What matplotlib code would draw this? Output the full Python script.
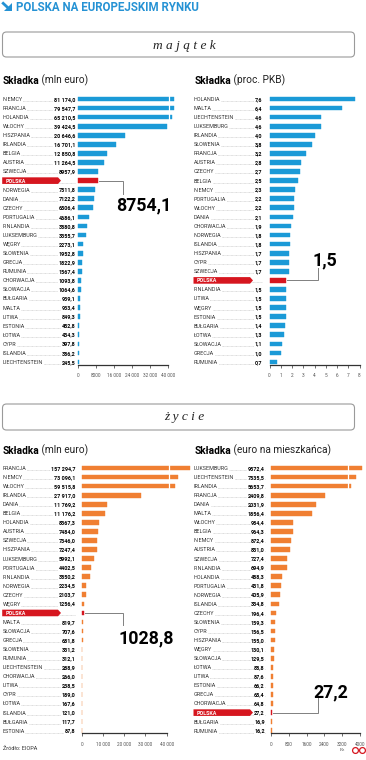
import matplotlib
matplotlib.use("Agg")
import matplotlib.pyplot as plt
from matplotlib.patches import FancyBboxPatch, Polygon
import numpy as np

# ---------------- data ----------------
maj_mln_countries = ["NIEMCY", "FRANCJA", "HOLANDIA", "WŁOCHY", "HISZPANIA", "IRLANDIA", "BELGIA",
                     "AUSTRIA", "SZWECJA", "POLSKA", "NORWEGIA", "DANIA", "CZECHY", "PORTUGALIA",
                     "FINLANDIA", "LUKSEMBURG", "WĘGRY", "SŁOWENIA", "GRECJA", "RUMUNIA", "CHORWACJA",
                     "SŁOWACJA", "BUŁGARIA", "MALTA", "LITWA", "ESTONIA", "ŁOTWA", "CYPR", "ISLANDIA",
                     "LIECHTENSTEIN"]
maj_mln_values = [81174.0, 79547.7, 65210.5, 39424.5, 20646.6, 16701.1, 12850.8, 11264.5, 8957.9,
                  8754.1, 7511.8, 7122.2, 6506.4, 4686.1, 3880.8, 3355.7, 2273.1, 1952.8, 1822.9,
                  1567.4, 1093.8, 1064.6, 939.1, 933.4, 849.3, 452.8, 434.3, 397.8, 386.2, 245.5]

maj_pkb_countries = ["HOLANDIA", "MALTA", "LIECHTENSTEIN", "LUKSEMBURG", "IRLANDIA", "SŁOWENIA",
                     "FRANCJA", "AUSTRIA", "CZECHY", "BELGIA", "NIEMCY", "PORTUGALIA", "WŁOCHY",
                     "DANIA", "CHORWACJA", "NORWEGIA", "ISLANDIA", "HISZPANIA", "CYPR", "SZWECJA",
                     "POLSKA", "FINLANDIA", "LITWA", "WĘGRY", "ESTONIA", "BUŁGARIA", "ŁOTWA",
                     "SŁOWACJA", "GRECJA", "RUMUNIA"]
maj_pkb_values = [7.6, 6.4, 4.6, 4.6, 4.0, 3.8, 3.2, 2.8, 2.7, 2.5, 2.3, 2.2, 2.2, 2.1, 1.9, 1.8,
                  1.8, 1.7, 1.7, 1.7, 1.5, 1.5, 1.5, 1.5, 1.5, 1.4, 1.3, 1.1, 1.0, 0.7]

zyc_mln_countries = ["FRANCJA", "NIEMCY", "WŁOCHY", "IRLANDIA", "DANIA", "BELGIA", "HOLANDIA",
                     "AUSTRIA", "SZWECJA", "HISZPANIA", "LUKSEMBURG", "PORTUGALIA", "FINLANDIA",
                     "NORWEGIA", "CZECHY", "WĘGRY", "POLSKA", "MALTA", "SŁOWACJA", "GRECJA",
                     "SŁOWENIA", "RUMUNIA", "LIECHTENSTEIN", "CHORWACJA", "LITWA", "CYPR", "ŁOTWA",
                     "ISLANDIA", "BUŁGARIA", "ESTONIA"]
zyc_mln_values = [157294.7, 73096.1, 59515.8, 27917.0, 11769.2, 11176.2, 8367.3, 7484.0, 7346.0,
                  7247.4, 5992.1, 4402.5, 3850.2, 2234.5, 2103.7, 1256.4, 1028.8, 819.7, 707.6,
                  681.8, 331.2, 312.1, 288.9, 266.0, 238.5, 189.0, 167.6, 121.0, 117.7, 87.8]

zyc_cap_countries = ["LUKSEMBURG", "LIECHTENSTEIN", "IRLANDIA", "FRANCJA", "DANIA", "MALTA",
                     "WŁOCHY", "BELGIA", "NIEMCY", "AUSTRIA", "SZWECJA", "FINLANDIA", "HOLANDIA",
                     "PORTUGALIA", "NORWEGIA", "ISLANDIA", "CZECHY", "SŁOWENIA", "CYPR",
                     "HISZPANIA", "WĘGRY", "SŁOWACJA", "ŁOTWA", "LITWA", "ESTONIA", "GRECJA",
                     "CHORWACJA", "POLSKA", "BUŁGARIA", "RUMUNIA"]
zyc_cap_values = [9572.4, 7535.5, 5653.7, 2409.8, 2031.9, 1856.4, 984.4, 964.3, 872.4, 831.0,
                  727.4, 694.9, 488.3, 431.8, 405.9, 334.8, 196.4, 159.3, 156.5, 155.0, 130.1,
                  129.5, 88.8, 87.6, 66.2, 65.4, 64.8, 27.2, 16.9, 16.2]

maj_mln_ticks = [0, 8000, 16000, 24000, 32000, 40000]
maj_mln_ticklabels = ["0", "8000", "16 000", "24 000", "32 000", "40 000"]
maj_pkb_ticks = [0, 1, 2, 3, 4, 5, 6, 7, 8]
maj_pkb_ticklabels = ["0", "1", "2", "3", "4", "5", "6", "7", "8"]
zyc_mln_ticks = [0, 10000, 20000, 30000, 40000]
zyc_mln_ticklabels = ["0", "10 000", "20 000", "30 000", "40 000"]
zyc_cap_ticks = [0, 800, 1600, 2400, 3200, 4000]
zyc_cap_ticklabels = ["0", "800", "1600", "2400", "3200", "4000"]

title = "POLSKA NA EUROPEJSKIM RYNKU"
section1 = "m a j ą t e k"
section2 = "ż y c i e"
source = "Źródło: EIOPA"

# ---------------- style ----------------
W, H = 366, 760
BLUE = "#1b9ad7"
BLUE_T = "#2592d4"
ORANGE = "#f07f32"
RED = "#d6161f"
FONT = "Roboto"
FS_LAB = 3.9
CAP = FS_LAB * 100 / 72 * 0.711

fig = plt.figure(figsize=(W / 100, H / 100), dpi=100)
bg = fig.add_axes([0, 0, 1, 1])
bg.set_xlim(0, W)
bg.set_ylim(H, 0)
bg.axis("off")


def fmt(v, dec=1):
    s = f"{v:.{dec}f}"
    ip, fp = s.split(".")
    if len(ip) >= 5:
        groups = []
        while len(ip) > 3:
            groups.insert(0, ip[-3:])
            ip = ip[:-3]
        groups.insert(0, ip)
        ip = " ".join(groups)
    return ip + "," + fp


def disp_log(b, c):
    return lambda v: v if v <= b else b + c * np.log(v / b)


def disp_lin(b, k):
    return lambda v: v if v <= b else b + k * (v - b)


WB = dict(facecolor="white", edgecolor="none", pad=0.3)


def draw_panel(names, vals, color, xmax, ticks, ticklabels, lab_x, val_x, x0, x1, row0, dy,
               axis_y, disp, brk_line, show_pv, pol_x1, big_xy, conn_x, conn_end_y, dec=1):
    n = len(names)
    top = row0 - dy / 2
    ax = fig.add_axes([x0 / W, 1 - axis_y / H, (x1 - x0) / W, (axis_y - top) / H])
    ax.patch.set_alpha(0)
    ax.set_xlim(0, xmax)
    ax.set_ylim((axis_y - row0) / dy, -0.5)
    ypos = np.arange(n)
    dvals = [disp(v) for v in vals]
    cols = [RED if nm == "POLSKA" else color for nm in names]
    ax.barh(ypos, dvals, height=0.52, color=cols, edgecolor=cols, linewidth=0.3, clip_on=False)
    if brk_line is not None:
        nb = sum(v > brk_line for v in vals)
        if nb:
            ax.plot([brk_line, brk_line], [-0.4, nb - 1 + 0.4], color="white", lw=0.9,
                    clip_on=False, solid_capstyle="butt")
    for s in ["top", "right", "left"]:
        ax.spines[s].set_visible(False)
    ax.spines["bottom"].set_color("#333333")
    ax.spines["bottom"].set_linewidth(0.9)
    ax.set_yticks([])
    ax.set_xticks(ticks)
    ax.set_xticklabels(ticklabels, fontsize=3.4, color="#555555", family=FONT)
    ax.tick_params(axis="x", length=2, width=0.5, color="#333333", pad=4.2)

    pv = None
    for i, (nm, v) in enumerate(zip(names, vals)):
        y = row0 + i * dy
        yb = y + CAP / 2
        bg.plot([lab_x, val_x], [yb, yb], ls=(0, (0.4, 0.9)), color="#8a8a8a", lw=0.45, zorder=1)
        if nm == "POLSKA":
            pv = (v, y)
            h = 3.3
            poly = Polygon([(lab_x - 0.5, y - h), (pol_x1 - 3, y - h), (pol_x1, y),
                            (pol_x1 - 3, y + h), (lab_x - 0.5, y + h)], closed=True,
                           facecolor=RED, edgecolor="none", zorder=3)
            bg.add_patch(poly)
            bg.text(lab_x + 3, yb, nm, fontsize=FS_LAB, family=FONT, weight="bold",
                    color="white", va="baseline", ha="left", zorder=4)
            if show_pv:
                bg.text(val_x, yb, fmt(v, dec), fontsize=FS_LAB, family=FONT, weight="bold",
                        color="black", va="baseline", ha="right", zorder=4, bbox=WB)
        else:
            bg.text(lab_x, yb, nm, fontsize=FS_LAB, family=FONT, color="#333333",
                    va="baseline", ha="left", zorder=4, bbox=WB)
            bg.text(val_x, yb, fmt(v, dec), fontsize=FS_LAB, family=FONT, weight="bold",
                    color="black", va="baseline", ha="right", zorder=4, bbox=WB)
    # connector + big number
    v, y = pv
    bar_end = x0 + disp(v) / xmax * (x1 - x0)
    bg.plot([bar_end + 0.8, conn_x, conn_x], [y, y, conn_end_y], color="#808080", lw=0.7,
            zorder=2, solid_joinstyle="miter")
    bg.text(big_xy[0], big_xy[1], fmt(v, dec), fontsize=12.8, family=FONT, weight="bold",
            color="black", ha="center", va="baseline", zorder=5)
    return ax


# ---------------- header ----------------
bg.add_patch(Polygon([(11.5, 3.0), (11.5, 11.0), (3.5, 11.0)], closed=True, facecolor=BLUE_T,
                     edgecolor="none"))
bg.plot([2.2, 8.5], [2.4, 8.3], color=BLUE_T, lw=2.0, solid_capstyle="butt")
bg.text(15.5, 10.6, title, fontsize=8.3, family=FONT, weight="bold", color=BLUE_T,
        va="baseline", ha="left")


def section_box(y0, y1, txt, baseline):
    bg.add_patch(FancyBboxPatch((2.5, y0), 352, y1 - y0,
                                boxstyle="round,pad=0,rounding_size=4",
                                facecolor="white", edgecolor="#9a9a9a", lw=0.8))
    bg.text(184, baseline, txt, fontsize=9.6, family="Liberation Serif", style="italic",
            color="#222222", ha="center", va="baseline")


def subtitle(x, y, bold, rest):
    t = bg.text(x, y, bold, fontsize=7.3, family=FONT, weight="bold", color="black",
                va="baseline", ha="left")
    bg.annotate(rest, xy=(1, 0), xycoords=t, fontsize=7.3, family=FONT, color="#222222",
                va="bottom", ha="left")


section_box(32, 57, section1, 48.5)
subtitle(2.7, 84, "Składka", " (mln euro)")
subtitle(194.5, 84, "Składka", " (proc. PKB)")

draw_panel(maj_mln_countries, maj_mln_values, BLUE, 40000, maj_mln_ticks, maj_mln_ticklabels,
           2.7, 75.3, 78.3, 168.3, 99, 9.07, 364.5, disp_log(40000, 3578), 40400, False, 61,
           (144, 210), 123.3, 194)
draw_panel(maj_pkb_countries, maj_pkb_values, BLUE, 8, maj_pkb_ticks, maj_pkb_ticklabels,
           194, 262.3, 269.5, 359.5, 99, 9.07, 364.5, disp_lin(8, 1), None, False, 253,
           (325, 265), 318, 268)

section_box(404, 430, section2, 420)
subtitle(2.7, 453.5, "Składka", " (mln euro)")
subtitle(194.5, 453.5, "Składka", " (euro na mieszkańca)")

draw_panel(zyc_mln_countries, zyc_mln_values, ORANGE, 40000, zyc_mln_ticks, zyc_mln_ticklabels,
           2.7, 75.3, 81.7, 166.7, 468, 9.06, 733, disp_log(41000, 7500), 41000, False, 61,
           (146, 643), 123.3, 625)
draw_panel(zyc_cap_countries, zyc_cap_values, ORANGE, 4000, zyc_cap_ticks, zyc_cap_ticklabels,
           194, 264.7, 271.3, 359.7, 468, 9.06, 733, disp_lin(3350, 0.12), 3470, True, 253,
           (330.5, 697), 318, 698)

# ---------------- footer ----------------
bg.text(2.7, 750.5, source, fontsize=4.0, family=FONT, color="#333333", va="baseline", ha="left")
bg.text(340, 751, "Rz", fontsize=3.4, family="Liberation Serif", color="#555555",
        va="baseline", ha="left")
bg.plot([354.5, 361.5], [749.5, 749.5], ls="none", marker="o", ms=4.2, mfc="white",
        mec=RED, mew=0.9)

fig.savefig("out.png", dpi=100)
